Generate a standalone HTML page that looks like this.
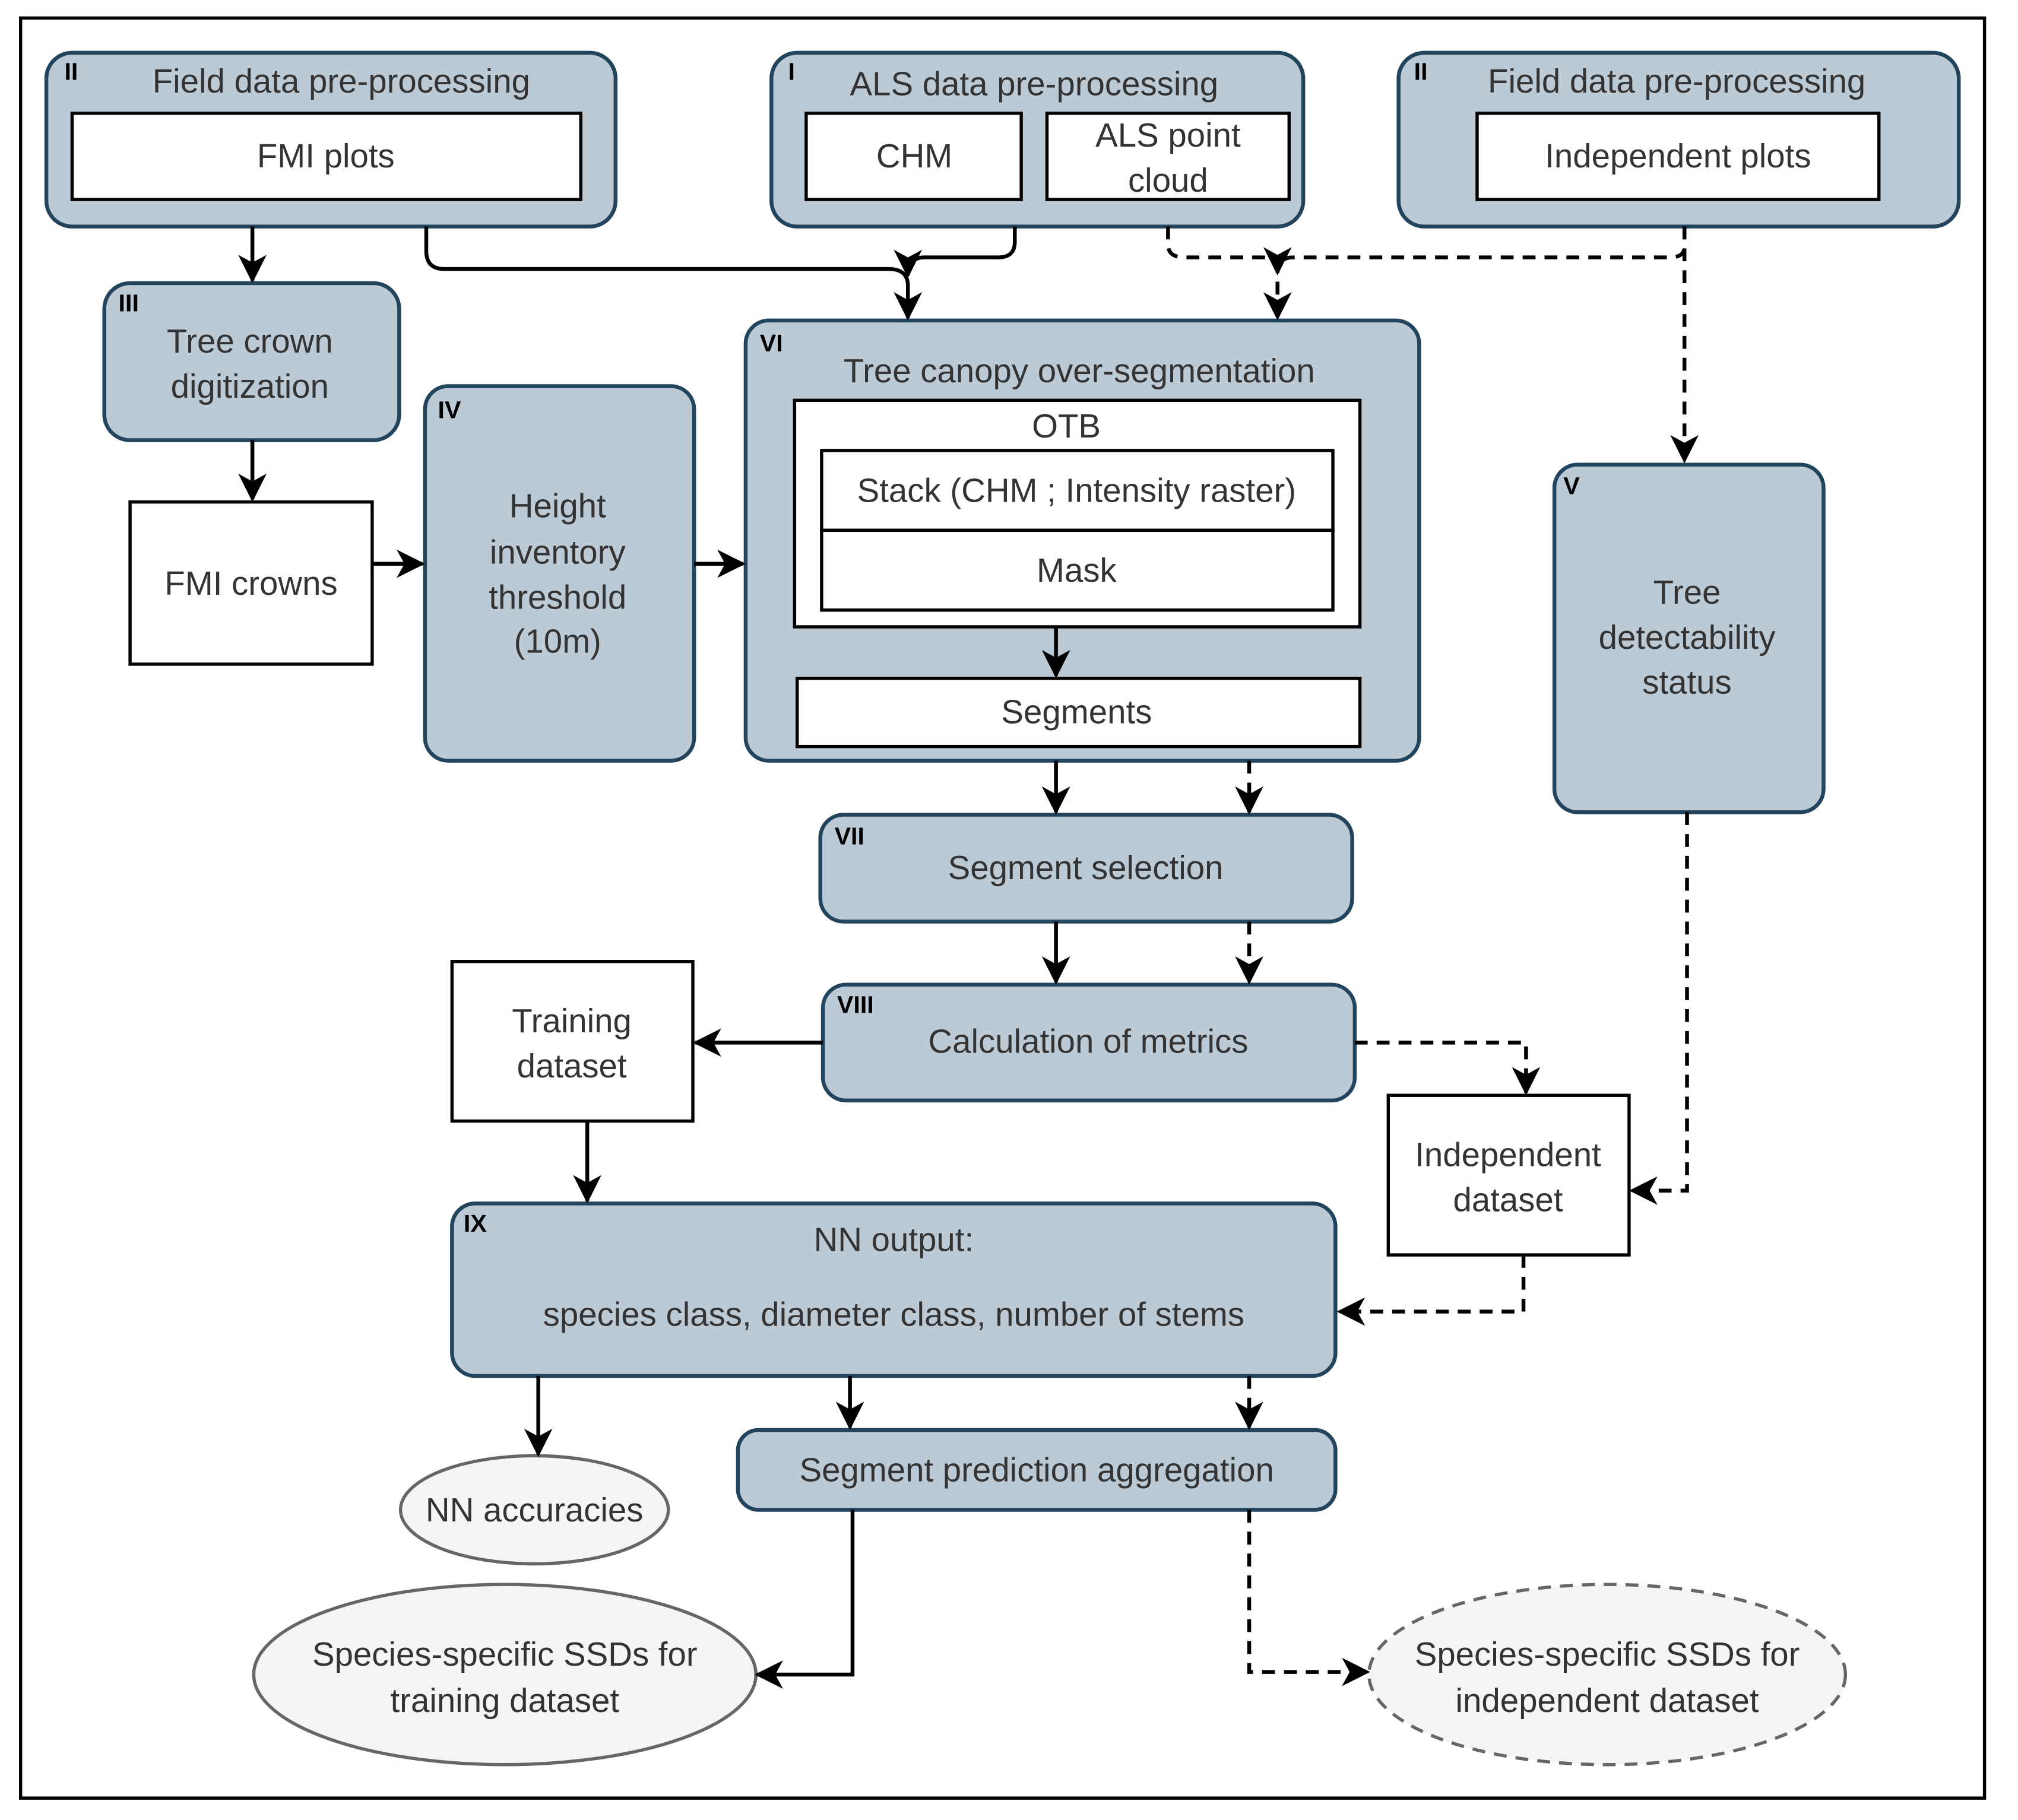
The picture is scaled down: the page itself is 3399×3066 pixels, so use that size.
<!DOCTYPE html>
<html><head><meta charset="utf-8"><style>html,body{margin:0;padding:0;background:#fff}svg{display:block}</style></head>
<body>
<svg xmlns="http://www.w3.org/2000/svg" width="3399" height="3066" viewBox="0 0 1567 1414" preserveAspectRatio="none" font-family="Liberation Sans, sans-serif">
<defs>
<marker id="b" viewBox="0 0 22 22" refX="20" refY="11" markerWidth="22" markerHeight="22" orient="auto" markerUnits="userSpaceOnUse">
<path d="M0,0 L22,11 L0,22 L6,11 Z" fill="#000"/>
</marker>
</defs>
<rect x="0" y="0" width="1567" height="1414" fill="#fff"/>
<rect x="16" y="14" width="1525" height="1383" fill="none" stroke="#000" stroke-width="2.5"/>
<g fill="#bccad6" stroke="#23445d" stroke-width="3">
<rect x="36" y="41" width="442" height="135" rx="20"/>
<rect x="599" y="41" width="413" height="135" rx="20"/>
<rect x="1086" y="41" width="435" height="135" rx="20"/>
<rect x="81" y="220" width="229" height="122" rx="20"/>
<rect x="330" y="300" width="209" height="291" rx="18"/>
<rect x="579" y="249" width="523" height="342" rx="18"/>
<rect x="1207" y="361" width="209" height="270" rx="18"/>
<rect x="637" y="633" width="413" height="83" rx="18"/>
<rect x="639" y="765" width="413" height="90" rx="18"/>
<rect x="351" y="935" width="686" height="134" rx="18"/>
<rect x="573" y="1111" width="464" height="62" rx="16"/>
</g>
<g fill="#fff" stroke="#000" stroke-width="2.5">
<rect x="56" y="88" width="395" height="67"/>
<rect x="626" y="88" width="167" height="67"/>
<rect x="813" y="88" width="188" height="67"/>
<rect x="1147" y="88" width="312" height="67"/>
<rect x="101" y="390" width="188" height="126"/>
<rect x="617" y="311" width="439" height="176"/>
<rect x="638" y="350" width="397" height="62"/>
<rect x="638" y="412" width="397" height="62"/>
<rect x="619" y="527" width="437" height="53"/>
<rect x="351" y="747" width="187" height="124"/>
<rect x="1078" y="851" width="187" height="124"/>
</g>
<g fill="#f5f5f5" stroke="#666" stroke-width="2.5">
<ellipse cx="415" cy="1173" rx="104" ry="42"/>
<ellipse cx="392" cy="1301" rx="195" ry="70"/>
<ellipse cx="1248" cy="1301" rx="185" ry="70" stroke-dasharray="10,7"/>
</g>
<g fill="none" stroke="#000" stroke-width="3" marker-end="url(#b)">
<path d="M196,176 V218"/>
<path d="M331,176 V195 Q331,209 345,209 H690 Q705,209 705,222 V247"/>
<path d="M788,176 V188 Q788,200 775,200 H718 Q705,200 705,214"/>
<path d="M196,342 V388"/>
<path d="M289,438 H328"/>
<path d="M539,438 H577"/>
<path d="M820,487 V525"/>
<path d="M820,591 V631"/>
<path d="M820,716 V763"/>
<path d="M639,810 H540"/>
<path d="M456,871 V933"/>
<path d="M418,1069 V1130"/>
<path d="M660,1069 V1109"/>
<path d="M662,1173 V1301 H588"/>
</g>
<g fill="none" stroke="#000" stroke-width="3" stroke-dasharray="10,7" marker-end="url(#b)">
<path d="M907,176 V190 Q907,200 920,200 H980 Q992,200 992,212 V247"/>
<path d="M1308,176 V192 Q1308,200 1296,200 H1004 Q992,200 992,212"/>
<path d="M1308,176 V358"/>
<path d="M970,591 V631"/>
<path d="M970,716 V763"/>
<path d="M1052,810 H1185 V849"/>
<path d="M1310,631 V925 H1267"/>
<path d="M1183,975 V1019 H1040"/>
<path d="M970,1069 V1109"/>
<path d="M970,1173 V1299 H1062"/>
</g>
<g fill="#000" font-size="19" font-weight="bold">
<text x="50" y="62">II</text>
<text x="612" y="62">I</text>
<text x="1098" y="62">II</text>
<text x="92" y="242">III</text>
<text x="340" y="325">IV</text>
<text x="590" y="273">VI</text>
<text x="1214" y="384">V</text>
<text x="648" y="656">VII</text>
<text x="650" y="787">VIII</text>
<text x="360" y="957">IX</text>
</g>
<g fill="#333" font-size="26" text-anchor="middle">
<text x="265" y="72">Field data pre-processing</text>
<text x="803" y="74">ALS data pre-processing</text>
<text x="1302" y="72">Field data pre-processing</text>
<text x="253" y="130">FMI plots</text>
<text x="710" y="130">CHM</text>
<text x="907" y="114">ALS point</text>
<text x="907" y="149">cloud</text>
<text x="1303" y="130">Independent plots</text>
<text x="194" y="274">Tree crown</text>
<text x="194" y="309">digitization</text>
<text x="195" y="462">FMI crowns</text>
<text x="433" y="402">Height</text>
<text x="433" y="438">inventory</text>
<text x="433" y="473">threshold</text>
<text x="433" y="507">(10m)</text>
<text x="838" y="297">Tree canopy over-segmentation</text>
<text x="828" y="340">OTB</text>
<text x="836" y="390">Stack (CHM ; Intensity raster)</text>
<text x="836" y="452">Mask</text>
<text x="836" y="562">Segments</text>
<text x="1310" y="469">Tree</text>
<text x="1310" y="504">detectability</text>
<text x="1310" y="539">status</text>
<text x="843" y="683">Segment selection</text>
<text x="845" y="818">Calculation of metrics</text>
<text x="444" y="802">Training</text>
<text x="444" y="837">dataset</text>
<text x="1171" y="906">Independent</text>
<text x="1171" y="941">dataset</text>
<text x="694" y="972">NN output:</text>
<text x="694" y="1030">species class, diameter class, number of stems</text>
<text x="805" y="1151">Segment prediction aggregation</text>
<text x="415" y="1182">NN accuracies</text>
<text x="392" y="1294">Species-specific SSDs for</text>
<text x="392" y="1330">training dataset</text>
<text x="1248" y="1294">Species-specific SSDs for</text>
<text x="1248" y="1330">independent dataset</text>
</g>
</svg>
</body></html>
